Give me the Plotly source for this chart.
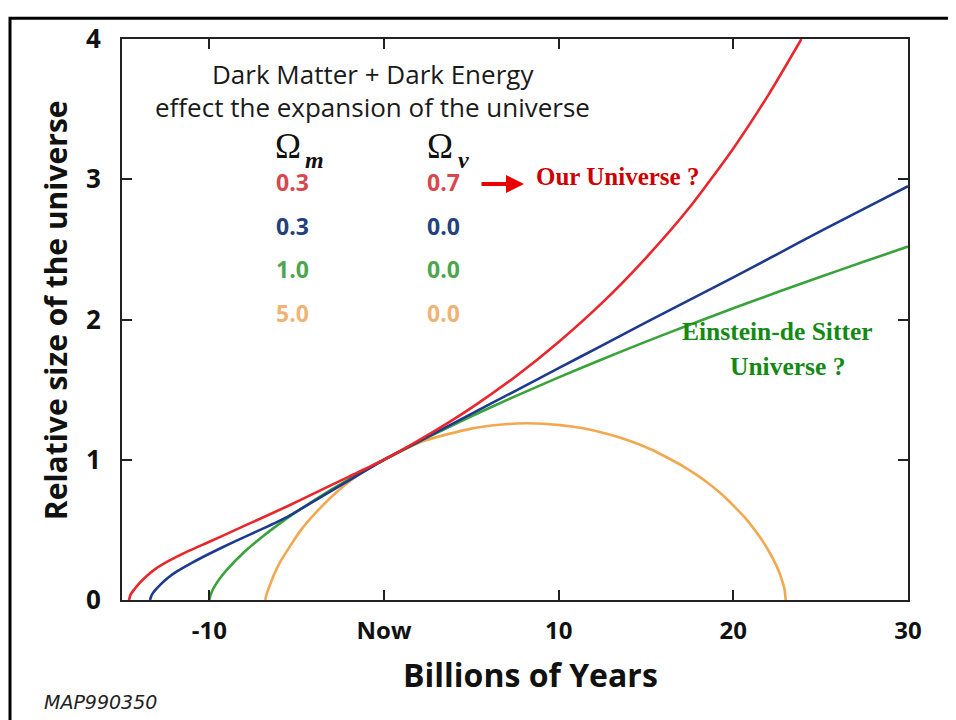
import plotly.graph_objects as go

# ---- data ----
red_x = [-14.6, -14.5, -14.3, -14.0, -13.6, -13.1, -12.3, -11.3, -10.0, -8.5, -7.0, -5.5, -4.0,
         -2.0, 0.0, 2.5, 5.0, 7.5, 10.0, 12.5, 15.0, 17.5, 20.0, 22.0, 23.9]
red_y = [0.0, 0.04, 0.075, 0.12, 0.17, 0.22, 0.28, 0.343, 0.415, 0.50, 0.585, 0.67, 0.76,
         0.88, 1.0, 1.175, 1.37, 1.59, 1.84, 2.12, 2.44, 2.80, 3.22, 3.60, 4.0]

blue_x = [-13.4, -13.3, -13.1, -12.8, -12.4, -11.9, -11.0, -10.0, -8.5, -7.0, -5.5, -4.0,
          -2.0, 0.0, 2.5, 5.0, 7.5, 10.0, 12.5, 15.0, 17.5, 20.0, 22.5, 25.0, 27.5, 30.0]
blue_y = [0.0, 0.035, 0.07, 0.11, 0.155, 0.20, 0.265, 0.33, 0.42, 0.505, 0.595, 0.705,
          0.853, 1.0, 1.163, 1.327, 1.49, 1.653, 1.816, 1.98, 2.14, 2.30, 2.465, 2.63,
          2.79, 2.95]

green_x = [-10.0, -9.9, -9.7, -9.4, -9.0, -8.0, -7.0, -6.0, -5.0, -4.0, -3.0, -2.0, -1.0, 0.0,
           2.5, 5.0, 7.5, 10.0, 12.5, 15.0, 17.5, 20.0, 22.5, 25.0, 27.5, 30.0]
green_y = [0.0, 0.046, 0.097, 0.154, 0.215, 0.342, 0.448, 0.543, 0.63, 0.711, 0.788, 0.862,
           0.932, 1.0, 1.16, 1.31, 1.452, 1.587, 1.717, 1.842, 1.963, 2.08, 2.194, 2.305,
           2.413, 2.52]

orange_x = [-6.8, -6.7, -6.55, -6.3, -5.95, -5.45, -4.75, -3.85, -2.8, -1.55, 0.0, 2.3, 5.0,
            6.6, 8.2, 10.1, 11.4, 12.75, 14.05, 15.3, 16.45, 17.2, 17.9, 18.55, 19.15, 19.7,
            20.2, 20.68, 21.08, 21.46, 21.78, 22.05, 22.29, 22.49, 22.65, 22.82, 22.93, 23.0]
orange_y = [0.0, 0.05, 0.10, 0.18, 0.27, 0.37, 0.50, 0.63, 0.76, 0.885, 1.0, 1.135, 1.222,
            1.25, 1.26, 1.247, 1.224, 1.185, 1.135, 1.073, 1.0, 0.948, 0.892, 0.834, 0.773,
            0.711, 0.648, 0.585, 0.523, 0.46, 0.40, 0.344, 0.29, 0.238, 0.19, 0.128, 0.077,
            0.0]

omega_m = ["0.3", "0.3", "1.0", "5.0"]
omega_v = ["0.7", "0.0", "0.0", "0.0"]

x_tickvals = [-10, 0, 10, 20, 30]
x_ticktext = ["-10", "Now", "10", "20", "30"]
y_tickvals = [0, 1, 2, 3, 4]

line_colors = ["#e8262b", "#1e3a8f", "#3aa23a", "#f2a851"]
text_colors = ["#d8474d", "#23407e", "#4da64d", "#efb475"]

SANS = "Open Sans"
SERIF = "Liberation Serif"

# page offset of the figure (browser body margin)
OFF = 8
PL, PR, PT, PB = 122, 908, 31, 600   # plot area in page pixels
PW, PH = PR - PL, PB - PT
XMIN, XMAX, YMIN, YMAX = -15, 30, 0, 4


def px(xp):
    return (xp - PL) / PW


def py(yp):
    return (PB - yp) / PH


def dx(xp):
    return XMIN + px(xp) * (XMAX - XMIN)


def dy(yp):
    return YMIN + py(yp) * (YMAX - YMIN)


fig = go.Figure()
series = [(orange_x, orange_y), (green_x, green_y), (blue_x, blue_y), (red_x, red_y)]
cols = [line_colors[3], line_colors[2], line_colors[1], line_colors[0]]
for (xs, ys), c in zip(series, cols):
    fig.add_trace(go.Scatter(x=xs, y=ys, mode="lines",
                             line=dict(color=c, width=2.6, shape="spline", smoothing=0.6),
                             hoverinfo="skip", showlegend=False))

ann = []


def text_ann(xp, yp, text, font, ref="x", **kw):
    d = dict(text=text, showarrow=False, font=font, xanchor="center", yanchor="middle")
    if ref == "x":
        d.update(xref="x", yref="y", x=dx(xp), y=dy(yp))
    else:
        d.update(xref="paper", yref="paper", x=px(xp), y=py(yp))
    d.update(kw)
    ann.append(d)


text_ann(373, 66, "Dark Matter + Dark Energy", dict(family=SANS, size=26, color="#1a1a1a"))
text_ann(372, 100, "effect the expansion of the universe",
         dict(family=SANS, size=26, color="#1a1a1a"))
# Omega headers
text_ann(288, 140, "Ω", dict(family=SERIF, size=35, color="#111111"))
text_ann(314, 154, "<b><i>m</i></b>", dict(family=SERIF, size=24, color="#111111"))
text_ann(440, 140, "Ω", dict(family=SERIF, size=35, color="#111111"))
text_ann(463, 154, "<b><i>v</i></b>", dict(family=SERIF, size=24, color="#111111"))
row_px = [176, 221, 264, 309]
for m, v, yp, c in zip(omega_m, omega_v, row_px, text_colors):
    text_ann(292, yp, "<b>" + m + "</b>", dict(family=SANS, size=23, color=c))
    text_ann(443, yp, "<b>" + v + "</b>", dict(family=SANS, size=23, color=c))
# arrow
ann.append(dict(x=dx(524), y=dy(178), xref="x", yref="y", ax=dx(480), ay=dy(178),
                axref="x", ayref="y", text="", showarrow=True, arrowhead=2, arrowsize=0.9,
                arrowwidth=4, arrowcolor="#e80000"))
text_ann(617, 170, "<b>Our Universe ?</b>", dict(family=SERIF, size=25, color="#cc0000"))
text_ann(777, 328, "<b>Einstein-de Sitter</b>", dict(family=SERIF, size=25.5, color="#138a13"))
text_ann(787, 363, "<b>Universe ?</b>", dict(family=SERIF, size=25.5, color="#138a13"))
# axis titles
text_ann(530, 676, "<b>Billions of Years</b>",
         dict(family=SANS, size=32, color="#111111"), ref="paper")
text_ann(55, 306, "<b>Relative size of the universe</b>",
         dict(family=SANS, size=30, color="#111111"), ref="paper", textangle=-90)
text_ann(100, 703, "<i>MAP990350</i>",
         dict(family="DejaVu Sans", size=19, color="#222222"), ref="paper")

fig.update_layout(
    width=956 - OFF, height=720 - OFF,
    margin=dict(l=PL - OFF, r=956 - PR, t=PT - OFF, b=720 - PB),
    paper_bgcolor="white", plot_bgcolor="white",
    annotations=ann,
    shapes=[dict(type="rect", xref="paper", yref="paper",
                 x0=px(10), x1=px(975), y0=py(740), y1=py(10),
                 line=dict(color="black", width=3), fillcolor="rgba(0,0,0,0)", layer="below")],
)
fig.update_xaxes(range=[XMIN, XMAX], tickvals=x_tickvals, ticktext=x_ticktext,
                 showgrid=False, zeroline=False, showline=True, linecolor="#222222",
                 linewidth=2, mirror="allticks", ticks="inside", ticklen=10, tickwidth=2,
                 tickcolor="#222222", ticklabelstandoff=8,
                 tickfont=dict(family=SANS, size=24, color="#111111", weight="bold"))
fig.update_yaxes(range=[YMIN, YMAX], tickvals=y_tickvals,
                 showgrid=False, zeroline=False, showline=True, linecolor="#222222",
                 linewidth=2, mirror="allticks", ticks="inside", ticklen=10, tickwidth=2,
                 tickcolor="#222222", ticklabelstandoff=14,
                 tickfont=dict(family=SANS, size=26, color="#111111", weight="bold"))

fig.write_html("out.html")
